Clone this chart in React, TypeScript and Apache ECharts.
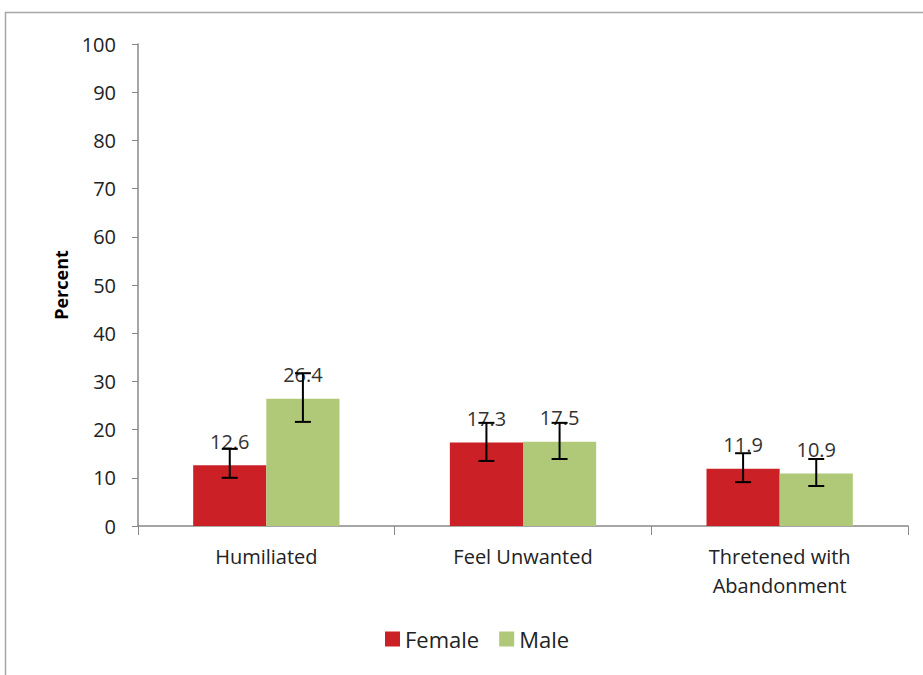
import React, { useEffect, useRef } from "react";
import * as echarts from "echarts";

const categories = ["Humiliated", "Feel Unwanted", "Thretened with\nAbandonment"];
const femaleValues = [12.6, 17.3, 11.9];
const maleValues = [26.4, 17.5, 10.9];
const femaleLow = [10.0, 13.5, 9.1];
const femaleHigh = [16.0, 21.4, 15.1];
const maleLow = [21.6, 13.9, 8.3];
const maleHigh = [31.7, 21.4, 13.9];
const yTicks = { min: 0, max: 100, interval: 10 };

const FONT = "'Open Sans', sans-serif";
const GAP = 0.43;

function errorSeries(name: string, low: number[], high: number[], side: number) {
  return {
    type: "custom",
    name: name + "-err",
    z: 10,
    silent: true,
    data: low.map((l, i) => [i, l, high[i]]),
    renderItem: (params: any, api: any) => {
      const idx = api.value(0);
      const lo = api.coord([idx, api.value(1)]);
      const hi = api.coord([idx, api.value(2)]);
      const catW = api.size([1, 0])[0];
      const barW = (catW * (1 - GAP)) / 2;
      const x = lo[0] + (side * barW) / 2;
      const cap = 8;
      const style = { stroke: "#000", lineWidth: 2 };
      return {
        type: "group",
        children: [
          { type: "line", shape: { x1: x, y1: lo[1], x2: x, y2: hi[1] }, style },
          { type: "line", shape: { x1: x - cap, y1: lo[1], x2: x + cap, y2: lo[1] }, style },
          { type: "line", shape: { x1: x - cap, y1: hi[1], x2: x + cap, y2: hi[1] }, style },
        ],
      };
    },
  };
}

export default function App() {
  const ref = useRef<HTMLDivElement>(null);
  useEffect(() => {
    const chart = echarts.init(ref.current!, null, { renderer: "svg" });
    const label = {
      show: true,
      position: "top",
      distance: 14,
      fontFamily: FONT,
      fontSize: 20,
      color: "#333",
    };
    chart.setOption({
      animation: false,
      backgroundColor: "#fff",
      textStyle: { fontFamily: FONT },
      graphic: [
        {
          type: "rect",
          shape: { x: 5.5, y: 12.5, width: 1000, height: 1000 },
          style: { fill: "none", stroke: "#a6a6a6", lineWidth: 1.5 },
          z: -1,
        },
      ],
      grid: { left: 138, right: 15, top: 44, bottom: 149 },
      legend: {
        top: 623,
        left: 380,
        itemWidth: 15,
        itemHeight: 15,
        itemGap: 20,
        icon: "rect",
        data: ["Female", "Male"],
        textStyle: { fontFamily: FONT, fontSize: 22, color: "#222" },
      },
      xAxis: {
        type: "category",
        data: categories,
        axisLine: { lineStyle: { color: "#888", width: 1.5 } },
        axisTick: { show: true, length: 9, lineStyle: { color: "#888" } },
        axisLabel: {
          fontFamily: FONT,
          fontSize: 20,
          color: "#222",
          margin: 16,
          lineHeight: 29,
          interval: 0,
        },
      },
      yAxis: {
        type: "value",
        min: yTicks.min,
        max: yTicks.max,
        interval: yTicks.interval,
        name: "Percent",
        nameLocation: "middle",
        nameGap: 68,
        nameTextStyle: { fontFamily: FONT, fontSize: 18, fontWeight: "bold", color: "#000" },
        splitLine: { show: false },
        axisLine: { show: true, lineStyle: { color: "#888", width: 1.5 } },
        axisTick: { show: true, length: 6, lineStyle: { color: "#888" } },
        axisLabel: { fontFamily: FONT, fontSize: 20, color: "#222", margin: 22 },
      },
      series: [
        {
          type: "bar",
          name: "Female",
          data: femaleValues,
          itemStyle: { color: "#cc2027" },
          barGap: "0%",
          barCategoryGap: GAP * 100 + "%",
          label,
        },
        {
          type: "bar",
          name: "Male",
          data: maleValues,
          itemStyle: { color: "#afc978" },
          barGap: "0%",
          barCategoryGap: GAP * 100 + "%",
          label,
        },
        errorSeries("Female", femaleLow, femaleHigh, -1),
        errorSeries("Male", maleLow, maleHigh, 1),
      ],
    });
    return () => chart.dispose();
  }, []);
  return (
    <div
      ref={ref}
      style={{ position: "fixed", left: 0, top: 0, width: 923, height: 675, background: "#fff" }}
    />
  );
}
